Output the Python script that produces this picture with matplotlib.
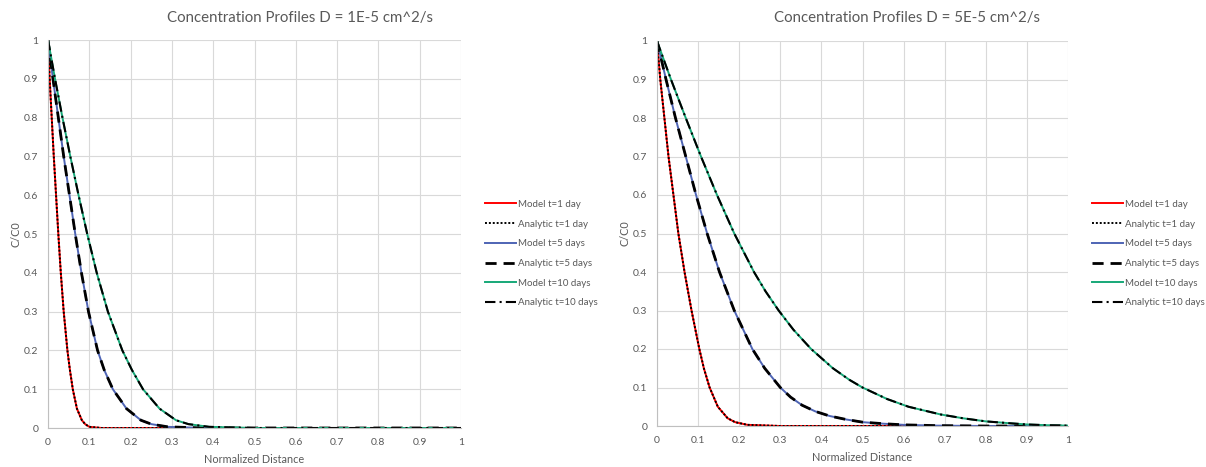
import matplotlib
matplotlib.use("Agg")
import matplotlib.pyplot as plt

plt.rcParams['font.family'] = ['Lato', 'DejaVu Sans']

# values (normalized distance, C/C0)
# D = 1E-5 cm^2/s
x_a_t1 = [0, 0.004, 0.009, 0.014, 0.0195, 0.025, 0.031, 0.038, 0.047, 0.053, 0.06,
          0.07, 0.082, 0.09, 0.1, 0.13, 1.0]
c_a_t1 = [1.0, 0.9, 0.8, 0.7, 0.6, 0.5, 0.4, 0.3, 0.2, 0.15, 0.1,
          0.05, 0.02, 0.01, 0.003, 0.0, 0.0]
x_a_t5 = [0, 0.012, 0.025, 0.038, 0.052, 0.066, 0.081, 0.098, 0.12, 0.136, 0.157,
          0.19, 0.225, 0.25, 0.29, 0.38, 1.0]
c_a_t5 = [1.0, 0.9, 0.8, 0.7, 0.6, 0.5, 0.4, 0.3, 0.2, 0.15, 0.1,
          0.05, 0.02, 0.01, 0.003, 0.0, 0.0]
x_a_t10 = [0, 0.017, 0.035, 0.054, 0.074, 0.095, 0.118, 0.145, 0.18, 0.203, 0.23,
           0.27, 0.31, 0.34, 0.39, 0.5, 1.0]
c_a_t10 = [1.0, 0.9, 0.8, 0.7, 0.6, 0.5, 0.4, 0.3, 0.2, 0.15, 0.1,
           0.05, 0.02, 0.01, 0.003, 0.0, 0.0]

# D = 5E-5 cm^2/s
x_b_t1 = [0, 0.008, 0.018, 0.028, 0.040, 0.052, 0.067, 0.084, 0.103, 0.114, 0.128,
          0.148, 0.172, 0.19, 0.22, 0.3, 1.0]
c_b_t1 = [1.0, 0.9, 0.8, 0.7, 0.6, 0.5, 0.4, 0.3, 0.2, 0.15, 0.1,
          0.05, 0.02, 0.01, 0.003, 0.0, 0.0]
x_b_t5 = [0, 0.022, 0.045, 0.07, 0.095, 0.122, 0.152, 0.188, 0.232, 0.262, 0.30,
          0.325, 0.353, 0.385, 0.42, 0.46, 0.5, 0.55, 0.6, 0.68, 0.8, 1.0]
c_b_t5 = [1.0, 0.9, 0.8, 0.7, 0.6, 0.5, 0.4, 0.3, 0.2, 0.15, 0.1,
          0.075, 0.054, 0.038, 0.026, 0.017, 0.01, 0.006, 0.003, 0.001, 0.0, 0.0]
x_b_t10 = [0, 0.034, 0.07, 0.107, 0.146, 0.188, 0.236, 0.264, 0.296, 0.332, 0.375,
           0.428, 0.468, 0.5, 0.56, 0.612, 0.69, 0.745, 0.8, 0.86, 0.9, 0.95, 1.0]
c_b_t10 = [1.0, 0.9, 0.8, 0.7, 0.6, 0.5, 0.4, 0.35, 0.3, 0.25, 0.2,
           0.15, 0.12, 0.1, 0.07, 0.05, 0.03, 0.02, 0.012, 0.007, 0.004, 0.002, 0.001]

labels = ['Model t=1 day', 'Analytic t=1 day', 'Model t=5 days',
          'Analytic t=5 days', 'Model t=10 days', 'Analytic t=10 days']
ticks = [0, 0.1, 0.2, 0.3, 0.4, 0.5, 0.6, 0.7, 0.8, 0.9, 1]
tick_labels = ['0', '0.1', '0.2', '0.3', '0.4', '0.5', '0.6', '0.7', '0.8', '0.9', '1']

GRAY = '#595959'


def draw_panel(ax, series, title, title_x, leg_x):
    (x1, c1), (x5, c5), (x10, c10) = series
    h = []
    h += ax.plot(x1, c1, color='#ff0000', lw=1.4)
    h += ax.plot(x1, c1, color='black', lw=1.4, ls=(0, (1, 1)))
    h += ax.plot(x5, c5, color='#4e64b4', lw=1.4)
    h += ax.plot(x5, c5, color='black', lw=2, ls=(0, (4, 2.5)))
    h += ax.plot(x10, c10, color='#17a878', lw=1.4)
    h += ax.plot(x10, c10, color='black', lw=1.5, ls=(0, (5, 2, 1, 2)))

    ax.set_xlim(0, 1)
    ax.set_ylim(0, 1)
    ax.set_xticks(ticks)
    ax.set_xticklabels(tick_labels)
    ax.set_yticks(ticks)
    ax.set_yticklabels(tick_labels)
    ax.tick_params(length=0, labelsize=7.5, colors=GRAY, pad=7)
    ax.grid(True, color='#d9d9d9', lw=0.8)
    ax.set_axisbelow(True)
    for s in ['top', 'right']:
        ax.spines[s].set_visible(False)
    for s in ['left', 'bottom']:
        ax.spines[s].set_color('#bfbfbf')
    ax.set_xlabel('Normalized Distance', fontsize=7.8, color=GRAY, labelpad=5)
    ax.set_ylabel('C/C0', fontsize=7.8, color=GRAY, labelpad=2)
    ax.figure.text(title_x, 0.962, title, ha='center', va='center',
                   fontsize=10.8, color=GRAY)
    ax.figure.legend(h, labels, loc='center left', bbox_to_anchor=(leg_x, 0.457),
                     frameon=False, fontsize=7, handlelength=3.2,
                     handletextpad=0.2, labelspacing=1.1, labelcolor=GRAY)


fig = plt.figure(figsize=(12.06, 4.67), dpi=100)
ax1 = fig.add_axes([48 / 1206, 1 - 428 / 467, 413 / 1206, 388 / 467])
ax2 = fig.add_axes([657 / 1206, 1 - 426 / 467, 411 / 1206, 385 / 467])

draw_panel(ax1, [(x_a_t1, c_a_t1), (x_a_t5, c_a_t5), (x_a_t10, c_a_t10)],
           'Concentration Profiles D = 1E-5 cm^2/s', 300 / 1206, 476 / 1206)
draw_panel(ax2, [(x_b_t1, c_b_t1), (x_b_t5, c_b_t5), (x_b_t10, c_b_t10)],
           'Concentration Profiles D = 5E-5 cm^2/s', 907 / 1206, 1083 / 1206)

fig.savefig('out.png', dpi=100)
